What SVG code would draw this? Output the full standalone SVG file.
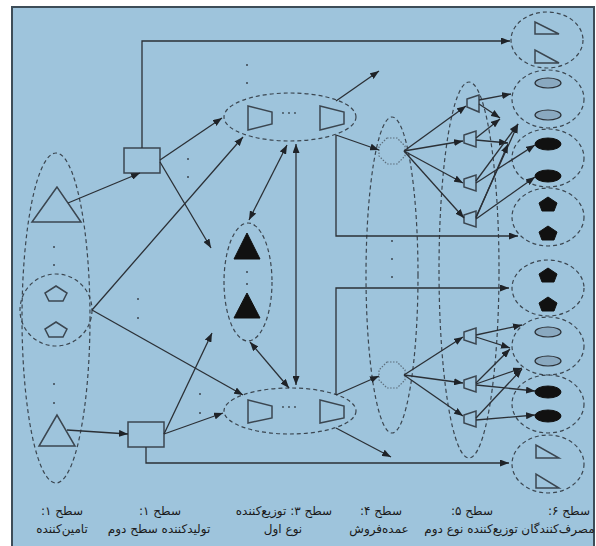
<svg xmlns="http://www.w3.org/2000/svg" width="596" height="546" viewBox="0 0 596 546">
<defs>
<marker id="ah" viewBox="0 0 9 7" refX="9" refY="3.5" markerUnits="userSpaceOnUse" markerWidth="9" markerHeight="7" orient="auto-start-reverse">
<path d="M0,0 L9,3.5 L0,7 z" fill="#1f2328"/>
</marker>
<style>
.ln{stroke:#2b3036;stroke-width:1.3;fill:none}
.arr{marker-end:url(#ah)}
.dbl{marker-start:url(#ah);marker-end:url(#ah)}
.dash{stroke:#3b4650;stroke-width:1.2;stroke-dasharray:4 3;fill:none}
.shp{fill:none;stroke:#3b4650;stroke-width:1.5}
.blk{fill:#111;stroke:#111;stroke-width:1}
.lgt{fill:#8aa9c0;stroke:#2b3036;stroke-width:1.2}
.oct{fill:none;stroke:#5d6e7c;stroke-width:1.2;stroke-dasharray:1.5 1.5}
.dot{fill:#3b4650}
.lbl{font-family:"DejaVu Sans",sans-serif;font-size:12px;fill:#1a1a1a;text-anchor:middle;direction:rtl;unicode-bidi:embed}
</style>
</defs>
<rect x="12" y="7" width="582" height="545" fill="#9ec4dc" stroke="#3d4d58" stroke-width="2"/>

<g id="level1-suppliers">
<ellipse class="dash" cx="56" cy="318" rx="34" ry="165"/>
<ellipse class="dash" cx="56" cy="310" rx="36" ry="36"/>
<polygon class="shp" points="57,187 32,222 81,222"/>
<polygon class="shp" points="56,286 67,293 63,301 49,301 45,293"/>
<polygon class="shp" points="56,322 67,329 63,337 49,337 45,329"/>
<polygon class="shp" points="57,415 39,446 75,446"/>
<circle class="dot" cx="54" cy="247" r="1"/><circle class="dot" cx="54" cy="265" r="1"/>
<circle class="dot" cx="54" cy="384" r="1"/><circle class="dot" cx="54" cy="403" r="1"/>
</g>

<g id="level2-producer-top"><rect class="shp" x="124" y="148" width="36" height="25"/></g>
<g id="level2-producer-bottom"><rect class="shp" x="128" y="422" width="36" height="25"/></g>
<g id="level2-dots">
<circle class="dot" cx="188" cy="159" r="1"/><circle class="dot" cx="188" cy="177" r="1"/>
<circle class="dot" cx="138" cy="299" r="1"/><circle class="dot" cx="138" cy="318" r="1"/>
<circle class="dot" cx="200" cy="394" r="1"/><circle class="dot" cx="200" cy="413" r="1"/>
</g>

<g id="level3-top">
<ellipse class="dash" cx="290" cy="117" rx="66" ry="24"/>
<polygon class="shp" points="248,106 272,112 272,124 248,130"/>
<polygon class="shp" points="320,106 344,112 344,124 320,130"/>
<circle class="dot" cx="283" cy="113" r="0.9"/><circle class="dot" cx="289" cy="113" r="0.9"/><circle class="dot" cx="295" cy="113" r="0.9"/>
<circle class="dot" cx="247" cy="65" r="1"/><circle class="dot" cx="247" cy="83" r="1"/>
</g>
<g id="level3-bottom">
<ellipse class="dash" cx="290" cy="411" rx="66" ry="23"/>
<polygon class="shp" points="248,400 272,406 272,418 248,423"/>
<polygon class="shp" points="320,400 344,406 344,418 320,423"/>
<circle class="dot" cx="283" cy="407" r="0.9"/><circle class="dot" cx="289" cy="407" r="0.9"/><circle class="dot" cx="295" cy="407" r="0.9"/>
</g>
<g id="level3-middle">
<ellipse class="dash" cx="248" cy="282" rx="24" ry="59"/>
<polygon class="blk" points="247,233 234,259 260,259"/>
<polygon class="blk" points="247,293 234,318 260,318"/>
<circle class="dot" cx="247" cy="272" r="1"/><circle class="dot" cx="247" cy="284" r="1"/>
</g>

<g id="level4-wholesalers">
<ellipse class="dash" cx="392" cy="275" rx="26" ry="158"/>
<polygon class="oct" points="387,138 397,138 405,146 405,156 397,164 387,164 379,156 379,146"/>
<polygon class="oct" points="387,362 397,362 405,370 405,380 397,388 387,388 379,380 379,370"/>
<circle class="dot" cx="392" cy="241" r="1"/><circle class="dot" cx="392" cy="259" r="1"/><circle class="dot" cx="392" cy="277" r="1"/>
</g>

<g id="level5-distributors">
<ellipse class="dash" cx="469" cy="270" rx="30" ry="188"/>
<polygon class="shp" points="467,99 479,95 479,112 467,107"/>
<polygon class="shp" points="464,135 476,131 476,147 464,143"/>
<polygon class="shp" points="464,179 476,175 476,191 464,187"/>
<polygon class="shp" points="464,215 476,211 476,227 464,223"/>
<polygon class="shp" points="464,332 476,328 476,344 464,340"/>
<polygon class="shp" points="464,380 476,376 476,392 464,388"/>
<polygon class="shp" points="464,415 476,411 476,427 464,423"/>
</g>

<g id="level6-c1"><ellipse class="dash" cx="547" cy="40" rx="36" ry="28"/>
<polygon class="shp" points="535,22 535,34 559,34"/><polygon class="shp" points="535,50 535,63 559,63"/></g>
<g id="level6-c2"><ellipse class="dash" cx="548" cy="99" rx="36" ry="29"/>
<ellipse class="lgt" cx="548" cy="83" rx="13" ry="5"/><ellipse class="lgt" cx="548" cy="115" rx="13" ry="5"/></g>
<g id="level6-c3"><ellipse class="dash" cx="548" cy="158" rx="36" ry="29"/>
<ellipse class="blk" cx="548" cy="144" rx="13" ry="6"/><ellipse class="blk" cx="548" cy="176" rx="13" ry="6"/></g>
<g id="level6-c4"><ellipse class="dash" cx="548" cy="217" rx="36" ry="29"/>
<polygon class="blk" points="548,197 557,203 554,211 542,211 539,203"/><polygon class="blk" points="548,226 557,232 554,240 542,240 539,232"/></g>
<g id="level6-c5"><ellipse class="dash" cx="548" cy="288" rx="36" ry="28"/>
<polygon class="blk" points="548,268 557,274 554,282 542,282 539,274"/><polygon class="blk" points="548,297 557,303 554,311 542,311 539,303"/></g>
<g id="level6-c6"><ellipse class="dash" cx="548" cy="346" rx="36" ry="29"/>
<ellipse class="lgt" cx="548" cy="332" rx="13" ry="5"/><ellipse class="lgt" cx="548" cy="361" rx="13" ry="5"/></g>
<g id="level6-c7"><ellipse class="dash" cx="548" cy="404" rx="36" ry="29"/>
<ellipse class="blk" cx="548" cy="392" rx="13" ry="6"/><ellipse class="blk" cx="548" cy="416" rx="13" ry="6"/></g>
<g id="level6-c8"><ellipse class="dash" cx="548" cy="464" rx="36" ry="29"/>
<polygon class="shp" points="536,445 536,458 559,458"/><polygon class="shp" points="536,474 536,488 559,488"/></g>

<g id="connectors">
<line class="ln arr" x1="68" y1="203" x2="140" y2="173"/>
<line class="ln arr" x1="160" y1="160" x2="222" y2="118"/>
<line class="ln arr" x1="160" y1="162" x2="211" y2="248"/>
<line class="ln arr" x1="92" y1="310" x2="243" y2="137"/>
<line class="ln arr" x1="92" y1="310" x2="243" y2="395"/>
<path class="ln arr" d="M142,148 V41 H510"/>
<line class="ln arr" x1="336" y1="101" x2="379" y2="71"/>
<line class="ln arr" x1="336" y1="135" x2="379" y2="150"/>
<path class="ln arr" d="M336,135 V236 H518"/>
<line class="ln dbl" x1="287" y1="145" x2="249" y2="220"/>
<line class="ln dbl" x1="296" y1="144" x2="296" y2="385"/>
<line class="ln dbl" x1="250" y1="342" x2="289" y2="388"/>
<line class="ln arr" x1="67" y1="430" x2="128" y2="434"/>
<line class="ln arr" x1="164" y1="434" x2="212" y2="333"/>
<line class="ln arr" x1="164" y1="434" x2="223" y2="413"/>
<path class="ln arr" d="M146,447 V463 H509"/>
<line class="ln arr" x1="336" y1="428" x2="391" y2="457"/>
<path class="ln arr" d="M336,395 V288 H509"/>
<line class="ln arr" x1="336" y1="395" x2="379" y2="376"/>
<line class="ln arr" x1="404" y1="151" x2="466" y2="106"/>
<line class="ln arr" x1="404" y1="151" x2="463" y2="141"/>
<line class="ln arr" x1="404" y1="151" x2="463" y2="183"/>
<line class="ln arr" x1="404" y1="151" x2="464" y2="218"/>
<line class="ln arr" x1="404" y1="375" x2="463" y2="337"/>
<line class="ln arr" x1="404" y1="375" x2="463" y2="383"/>
<line class="ln arr" x1="404" y1="375" x2="463" y2="416"/>
<line class="ln arr" x1="479" y1="100" x2="511" y2="94"/>
<line class="ln arr" x1="479" y1="104" x2="500" y2="118"/>
<line class="ln arr" x1="476" y1="138" x2="500" y2="119"/>
<line class="ln arr" x1="476" y1="140" x2="508" y2="143"/>
<line class="ln arr" x1="476" y1="181" x2="518" y2="124"/>
<line class="ln arr" x1="476" y1="183" x2="535" y2="145"/>
<line class="ln arr" x1="476" y1="217" x2="518" y2="124"/>
<line class="ln arr" x1="476" y1="218" x2="508" y2="144"/>
<line class="ln arr" x1="476" y1="219" x2="535" y2="177"/>
<line class="ln arr" x1="476" y1="335" x2="522" y2="325"/>
<line class="ln arr" x1="476" y1="337" x2="510" y2="348"/>
<line class="ln arr" x1="476" y1="383" x2="510" y2="349"/>
<line class="ln arr" x1="476" y1="384" x2="522" y2="368"/>
<line class="ln arr" x1="476" y1="385" x2="535" y2="391"/>
<line class="ln arr" x1="476" y1="418" x2="522" y2="369"/>
<line class="ln arr" x1="476" y1="420" x2="535" y2="415"/>
</g>

<g id="labels">
<text x="62" y="515" class="lbl">سطح ۱:</text>
<text x="62" y="533" class="lbl">تامین‌کننده</text>
<text x="160" y="515" class="lbl">سطح ۱:</text>
<text x="159" y="533" class="lbl">تولیدکننده سطح دوم</text>
<text x="284" y="515" class="lbl">سطح ۳: توزیع‌کننده</text>
<text x="283" y="533" class="lbl">نوع اول</text>
<text x="381" y="515" class="lbl">سطح ۴:</text>
<text x="379" y="533" class="lbl">عمده‌فروش</text>
<text x="472" y="515" class="lbl">سطح ۵:</text>
<text x="471" y="533" class="lbl">توزیع‌کننده نوع دوم</text>
<text x="569" y="515" class="lbl">سطح ۶:</text>
<text x="558" y="533" class="lbl">مصرف‌کنندگان</text>
</g>
</svg>
